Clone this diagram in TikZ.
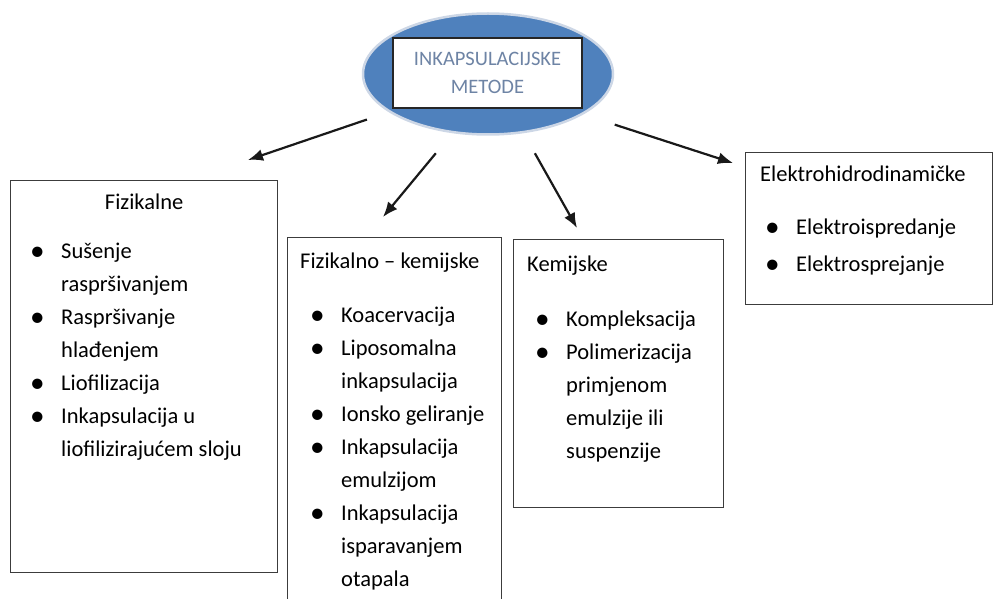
\documentclass[tikz,border=0pt]{standalone}
\usepackage{fontspec}
\setmainfont{Carlito}
\usetikzlibrary{shapes.geometric, arrows.meta, positioning}
\definecolor{ovalblue}{RGB}{79,129,189}
\definecolor{ovaledge}{RGB}{205,215,230}
\definecolor{titletext}{RGB}{110,132,165}
\definecolor{boxline}{RGB}{60,60,60}
\tikzset{
	oval/.style={draw=ovaledge, line width=2.5pt, ellipse, fill=ovalblue, minimum width=250pt, minimum height=121pt, inner sep=0pt},
	titlebox/.style={draw=black!85, line width=1.3pt, rectangle, fill=white, minimum width=189pt, minimum height=70pt, align=center, text=titletext, font=\fontsize{20.5}{28}\selectfont},
	% the four group frames
	group/.style={draw=boxline, line width=1.3pt, rectangle, anchor=north west, inner sep=0pt},
	head/.style={anchor=base west, inner sep=0pt, font=\fontsize{22.5}{33}\selectfont},
	items/.style={anchor=north west, inner sep=0pt, font=\fontsize{22.5}{33}\selectfont},
}
\newcommand{\itemlist}[1]{\begin{tabular}{@{}p{31pt}@{}l@{}}#1\end{tabular}}
\newcommand{\dotmark}{\raisebox{-2.2pt}{\scalebox{1.3}{\textbullet}}}

\begin{document}
\begin{tikzpicture}[x=1pt, y=-1pt]
				\clip (0,0) rectangle (993,599);
				
				\node (ell) [oval] at (488,74) {};
				\node (title) [titlebox] at (487.5,73) {INKAPSULACIJSKE\\METODE};
				
				\node (fiz) [group, minimum width=267pt, minimum height=392pt] at (10,180) {};
				\node (fizkem) [group, minimum width=214pt, minimum height=400pt] at (287,237) {};
				\node (kem) [group, minimum width=210pt, minimum height=268pt] at (513,239) {};
				\node (ehd) [group, minimum width=247pt, minimum height=152pt] at (745,152) {};
				
				% headings
				\node (fizH) [head, anchor=base] at ([yshift=-29pt]fiz.north) {Fizikalne};
				\node (fizkemH) [head] at ([xshift=13pt, yshift=-31pt]fizkem.north west) {Fizikalno – kemijske};
				\node (kemH) [head] at ([xshift=14pt, yshift=-32pt]kem.north west) {Kemijske};
				\node (ehdH) [head] at ([xshift=15pt, yshift=-30pt]ehd.north west) {Elektrohidrodinamičke};
				
				% lists
				\node (fizL) [items] at ([xshift=20pt, yshift=-55pt]fiz.north west) {\itemlist{
						\dotmark & Sušenje\\ & raspršivanjem\\
						\dotmark & Raspršivanje\\ & hlađenjem\\
						\dotmark & Liofilizacija\\
						\dotmark & Inkapsulacija u\\ & liofilizirajućem sloju}};
				\node (fizkemL) [items] at ([xshift=23pt, yshift=-62pt]fizkem.north west) {\itemlist{
						\dotmark & Koacervacija\\
						\dotmark & Liposomalna\\ & inkapsulacija\\
						\dotmark & Ionsko geliranje\\
						\dotmark & Inkapsulacija\\ & emulzijom\\
						\dotmark & Inkapsulacija\\ & isparavanjem\\ & otapala}};
				\node (kemL) [items] at ([xshift=22pt, yshift=-64pt]kem.north west) {\itemlist{
						\dotmark & Kompleksacija\\
						\dotmark & Polimerizacija\\ & primjenom\\ & emulzije ili\\ & suspenzije}};
				\node (ehdL) [items] at ([xshift=20pt, yshift=-56pt]ehd.north west) {\renewcommand{\arraystretch}{1.12}\itemlist{
						\dotmark & Elektroispredanje\\
						\dotmark & Elektrosprejanje}};
				
				% arrow tips
				\coordinate (tipF) at (248,160);
				\coordinate (tipFK) at (383,217);
				\coordinate (tipK) at (577,228);
				\coordinate (tipE) at (733,163);
				
				\begin{scope}[line width=2.2pt, black!90, ->, >={Latex[length=15pt, width=12pt]}]
					\draw[shorten <=23pt] (ell.201) -- (tipF);
					\draw[shorten <=26pt] (ell.239) -- (tipFK);
					\draw[shorten <=23pt] (ell.301) -- (tipK);
					\draw[shorten <=33pt] (ell.337) -- (tipE);
				\end{scope}
			\end{tikzpicture}
\end{document}
